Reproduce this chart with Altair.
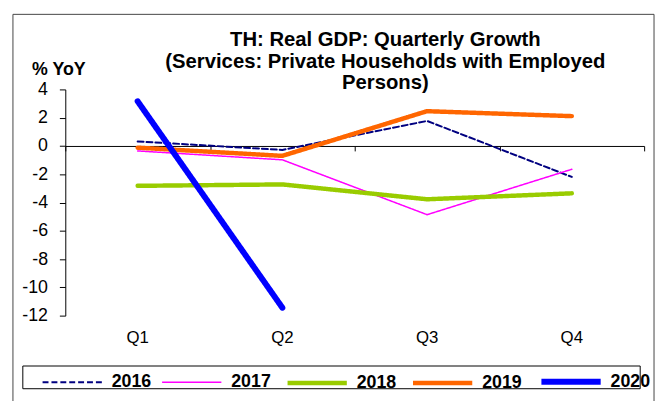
import altair as alt
import pandas as pd

quarters = ["Q1", "Q2", "Q3", "Q4"]
years = ["2016", "2017", "2018", "2019", "2020"]
y2016 = [0.32, -0.28, 1.77, -2.19]
y2017 = [-0.35, -0.98, -4.86, -1.65]
y2018 = [-2.82, -2.72, -3.77, -3.35]
y2019 = [-0.12, -0.70, 2.46, 2.11]
y2020 = [3.16, -11.44]
y_ticks = [-12, -10, -8, -6, -4, -2, 0, 2, 4]

colors = ["#000080", "#FF00FF", "#99CC00", "#FF6600", "#0000FF"]
widths = [2, 1.5, 4.5, 4.5, 6]
dashes = [[6, 3], [1, 0], [1, 0], [1, 0], [1, 0]]

series = {"2016": y2016, "2017": y2017, "2018": y2018, "2019": y2019, "2020": y2020}
rows = []
for yr, vals in series.items():
    for i, v in enumerate(vals):
        rows.append({"year": yr, "qnum": i + 1, "q": quarters[i], "value": v})
df = pd.DataFrame(rows)
qdf = pd.DataFrame({"qnum": [1, 2, 3, 4], "q": quarters})

W, H = 586, 229
FONT = "Liberation Sans"
ymin, ymax = -12, 4
zero_offset = -(0 - ymin) / (ymax - ymin) * H

xscale = alt.Scale(domain=[0.5, 4.5], nice=False, zero=False)

legend = alt.Legend(orient="none", legendX=-30, legendY=259,
                    direction="horizontal", columns=5,
                    symbolType="stroke", symbolSize=3600,
                    labelFontSize=18, labelFont=FONT,
                    labelFontWeight="bold", labelColor="black",
                    labelOffset=7, columnPadding=7, padding=4, title=None)

lines = alt.Chart(df).mark_line(strokeCap="round", strokeJoin="round").encode(
    x=alt.X("qnum:Q", scale=xscale,
            axis=alt.Axis(values=[0.5, 1.5, 2.5, 3.5, 4.5], labels=False, title=None,
                          grid=False, domainColor="black", tickColor="black",
                          tickSize=5, offset=zero_offset, domainWidth=1)),
    y=alt.Y("value:Q", scale=alt.Scale(domain=[ymin, ymax], nice=False),
            axis=alt.Axis(values=y_ticks, grid=False, domainColor="black", tickColor="black",
                          tickSize=6, labelFontSize=18, labelFont=FONT, labelColor="black",
                          labelExpr="'' + datum.value",
                          labelPadding=12, title="% YoY", titleAngle=0, titleX=-7, titleY=-15,
                          titleAlign="center", titleBaseline="alphabetic",
                          titleFontSize=18, titleFont=FONT, titleFontWeight="bold",
                          titleColor="black")),
    color=alt.Color("year:N", scale=alt.Scale(domain=years, range=colors), legend=legend),
    strokeWidth=alt.StrokeWidth("year:N", scale=alt.Scale(type="ordinal", domain=years, range=widths), legend=legend),
    strokeDash=alt.StrokeDash("year:N", scale=alt.Scale(domain=years, range=dashes), legend=legend),
    order=alt.Order("qnum:Q"),
)

xlabels = alt.Chart(qdf).mark_text(fontSize=17, font=FONT, color="black", baseline="middle").encode(
    x=alt.X("qnum:Q", scale=xscale),
    y=alt.value(252),
    text="q:N",
)

frame = alt.Chart(pd.DataFrame({"a": [0]})).mark_rect(fill=None, stroke="#444444", strokeWidth=1, clip=False).encode(
    x=alt.value(-53), x2=alt.value(596), y=alt.value(-76), y2=alt.value(330)
)

legend_box = alt.Chart(pd.DataFrame({"a": [0]})).mark_rect(fill=None, stroke="black", strokeWidth=1, clip=False).encode(
    x=alt.value(-43), x2=alt.value(582), y=alt.value(280), y2=alt.value(303)
)

chart = alt.layer(frame, legend_box, lines, xlabels).properties(
    width=W, height=H,
    title=alt.TitleParams(
        text=["TH: Real GDP: Quarterly Growth",
              "(Services: Private Households with Employed",
              "Persons)"],
        fontSize=20.5, font=FONT, fontWeight="bold", color="black",
        anchor="middle", dx=31, dy=77, offset=-4, lineHeight=22),
    autosize=alt.AutoSizeParams(type="none"),
    padding={"left": 58, "top": 80, "right": 12, "bottom": 84},
    background="white",
).configure_view(stroke=None)

chart.save("out.html", embed_options={"renderer": "svg", "actions": False})
